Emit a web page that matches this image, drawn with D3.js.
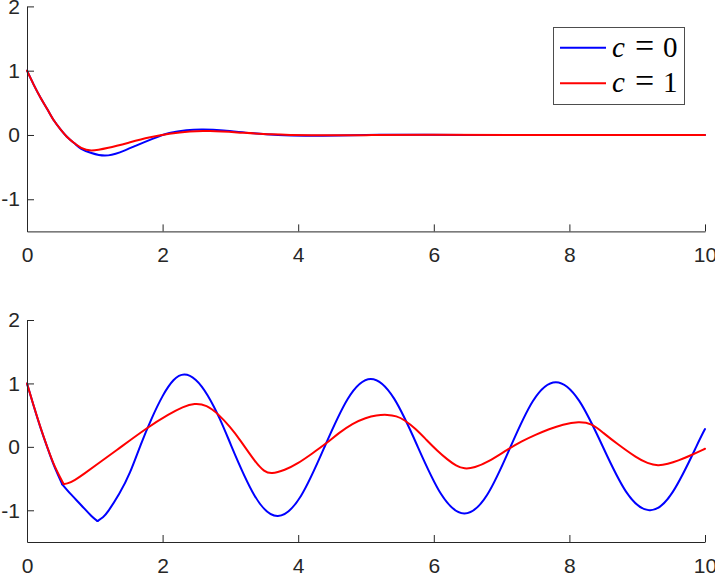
<!DOCTYPE html>
<html>
<head>
<meta charset="utf-8">
<script src="https://cdn.jsdelivr.net/npm/d3@7"></script>
<style>
  body { margin: 0; background: #fff; }
  svg { display: block; }
  .tick text { font-family: "Liberation Sans", Arial, sans-serif; font-size: 21px; fill: #262626; }
  .domain, .tick line { stroke: #262626; }
</style>
</head>
<body>
<svg width="715" height="575"></svg>
<script>
// top panel (decaying response)
const topBlueT = [0, 0.1, 0.2, 0.3, 0.4, 0.5, 0.6, 0.7, 0.8, 0.95, 1.15, 1.37, 1.6, 1.85, 2.1, 2.35, 2.6, 2.9, 3.3, 3.7, 4.1, 4.6, 5.2, 5.8, 6.5, 8, 10];
const topBlue  = [1, 0.78, 0.58, 0.4, 0.22, 0.08, -0.04, -0.13, -0.215, -0.28, -0.32, -0.27, -0.17, -0.06, 0.03, 0.075, 0.085, 0.07, 0.03, 0.0, -0.012, -0.008, 0.002, 0.004, 0.001, 0, 0];
const topRedT  = [0, 0.1, 0.2, 0.3, 0.4, 0.5, 0.6, 0.7, 0.8, 0.95, 1.2, 1.5, 1.8, 2.1, 2.4, 2.7, 3.1, 3.6, 4.2, 5, 6, 8, 10];
const topRed   = [1, 0.78, 0.58, 0.4, 0.22, 0.08, -0.04, -0.13, -0.2, -0.24, -0.2, -0.12, -0.04, 0.02, 0.055, 0.06, 0.04, 0.01, -0.005, -0.003, 0.002, 0, 0];

// bottom panel (sustained oscillation); both curves bend sharply near t = 0.5
const botBlueT = [0, 0.1, 0.2, 0.3, 0.4, 0.52, 0.65, 0.8, 0.95, 1.04, 1.12, 1.2, 1.36, 1.52, 1.68, 1.84, 2.0, 2.16, 2.32,
                  2.49, 2.665, 2.84, 3.01, 3.355, 3.7, 4.04, 4.385, 4.73, 5.07, 5.415, 5.76, 6.105, 6.45,
                  6.79, 7.125, 7.46, 7.8, 8.145, 8.49, 8.835, 9.18, 9.525, 9.87, 10];
const botBlue  = [1, 0.64, 0.3, -0.01, -0.3, -0.59, -0.75, -0.92, -1.09, -1.17, -1.11, -1.01, -0.74, -0.4, 0.04, 0.45, 0.8, 1.05, 1.14,
                  1.055, 0.81, 0.45, 0.025, -0.765, -1.09, -0.775, -0.01, 0.755, 1.07, 0.76, 0.01, -0.74, -1.05,
                  -0.75, -0.015, 0.72, 1.02, 0.725, 0.01, -0.705, -1.0, -0.71, 0.0, 0.28];
const botRedT  = [0, 0.1, 0.2, 0.3, 0.4, 0.54, 0.6, 0.7, 0.85, 1.0, 1.3, 1.78, 2.1, 2.3, 2.47, 2.65, 2.82, 3.0, 3.13, 3.38, 3.5, 3.6,
                  3.8, 4.0, 4.2, 4.41, 4.6, 4.8, 5.0, 5.15, 5.32, 5.45, 5.56, 5.73, 5.9, 6.05, 6.2, 6.33, 6.45,
                  6.6, 6.8, 7.09, 7.3, 7.5, 7.7, 7.9, 8.14, 8.33, 8.5, 8.7, 9.0, 9.15, 9.31, 9.45, 9.6, 9.8, 10];
const botRed   = [1, 0.64, 0.3, -0.01, -0.3, -0.585, -0.58, -0.53, -0.42, -0.3, -0.07, 0.31, 0.52, 0.63, 0.69, 0.66, 0.52, 0.31, 0.13, -0.26, -0.39, -0.43,
                  -0.37, -0.26, -0.11, 0.05, 0.22, 0.37, 0.46, 0.5, 0.51, 0.485, 0.43, 0.29, 0.1, -0.06, -0.2, -0.3, -0.35,
                  -0.33, -0.24, -0.04, 0.09, 0.19, 0.28, 0.355, 0.4, 0.37, 0.22, 0.05, -0.18, -0.26, -0.3, -0.27, -0.22, -0.13, -0.03];
const blueKinks = [0.52, 1.04];
const redKinks = [0.54];

const xTicks = [0, 2, 4, 6, 8, 10];
const yTicks = [-1, 0, 1, 2];
const legendLabels = ['0', '1'];
const colors = ['#0000ff', '#ff0000'];

const svg = d3.select('svg');
const xScale = d3.scaleLinear().domain([0, 10]).range([27, 705]);

const panels = [
  { top: 6.4, bottom: 231.4,
    series: [[topBlueT, topBlue, [], d3.curveNatural], [topRedT, topRed, [], d3.curveNatural]] },
  { top: 320, bottom: 542,
    series: [[botBlueT, botBlue, blueKinks, d3.curveNatural], [botRedT, botRed, redKinks, d3.curveBasis]] }
];

panels.forEach(p => {
  const yScale = d3.scaleLinear().domain([-1.5, 2]).range([p.bottom, p.top]);
  const g = svg.append('g');

  p.series.forEach((s, i) => {
    const line = d3.line()
      .x(d => xScale(d[0]))
      .y(d => yScale(d[1]))
      .curve(s[3]);
    const pts = s[0].map((t, j) => [t, s[1][j]]);
    // split at the kinks so the curve keeps the corners
    const edges = [-Infinity, ...s[2], Infinity];
    for (let k = 0; k < edges.length - 1; k++) {
      g.append('path')
        .datum(pts.filter(d => d[0] >= edges[k] && d[0] <= edges[k + 1]))
        .attr('d', line)
        .attr('fill', 'none')
        .attr('stroke', colors[i])
        .attr('stroke-width', 2)
        .attr('stroke-linejoin', 'round')
        .attr('stroke-linecap', 'round');
    }
  });

  g.append('g')
    .attr('transform', `translate(0,${p.bottom})`)
    .call(d3.axisBottom(xScale).tickValues(xTicks).tickFormat(d => String(d))
      .tickSizeInner(-7).tickSizeOuter(0).tickPadding(16));

  g.append('g')
    .attr('transform', `translate(${xScale(0)},0)`)
    .call(d3.axisLeft(yScale).tickValues(yTicks).tickFormat(d => String(d))
      .tickSizeInner(-7).tickSizeOuter(0).tickPadding(7));
});

// legend
const lg = svg.append('g');
lg.append('rect')
  .attr('x', 553.5).attr('y', 27.5).attr('width', 131).attr('height', 77)
  .attr('fill', '#fff').attr('stroke', '#4d4d4d').attr('stroke-width', 1);

legendLabels.forEach((lab, i) => {
  const y = 47.7 + i * 35.6;
  lg.append('line')
    .attr('x1', 560).attr('x2', 606).attr('y1', y).attr('y2', y)
    .attr('stroke', colors[i]).attr('stroke-width', 2);
  const t = lg.append('text')
    .attr('y', y + 9)
    .attr('font-family', '"Liberation Serif", "DejaVu Serif", serif')
    .attr('font-size', 29).attr('fill', '#000');
  t.append('tspan').attr('x', 612).attr('font-style', 'italic').text('c');
  t.append('tspan').attr('x', 635).attr('font-size', 34).text('=');
  t.append('tspan').attr('x', 663).text(lab);
});
</script>
</body>
</html>
